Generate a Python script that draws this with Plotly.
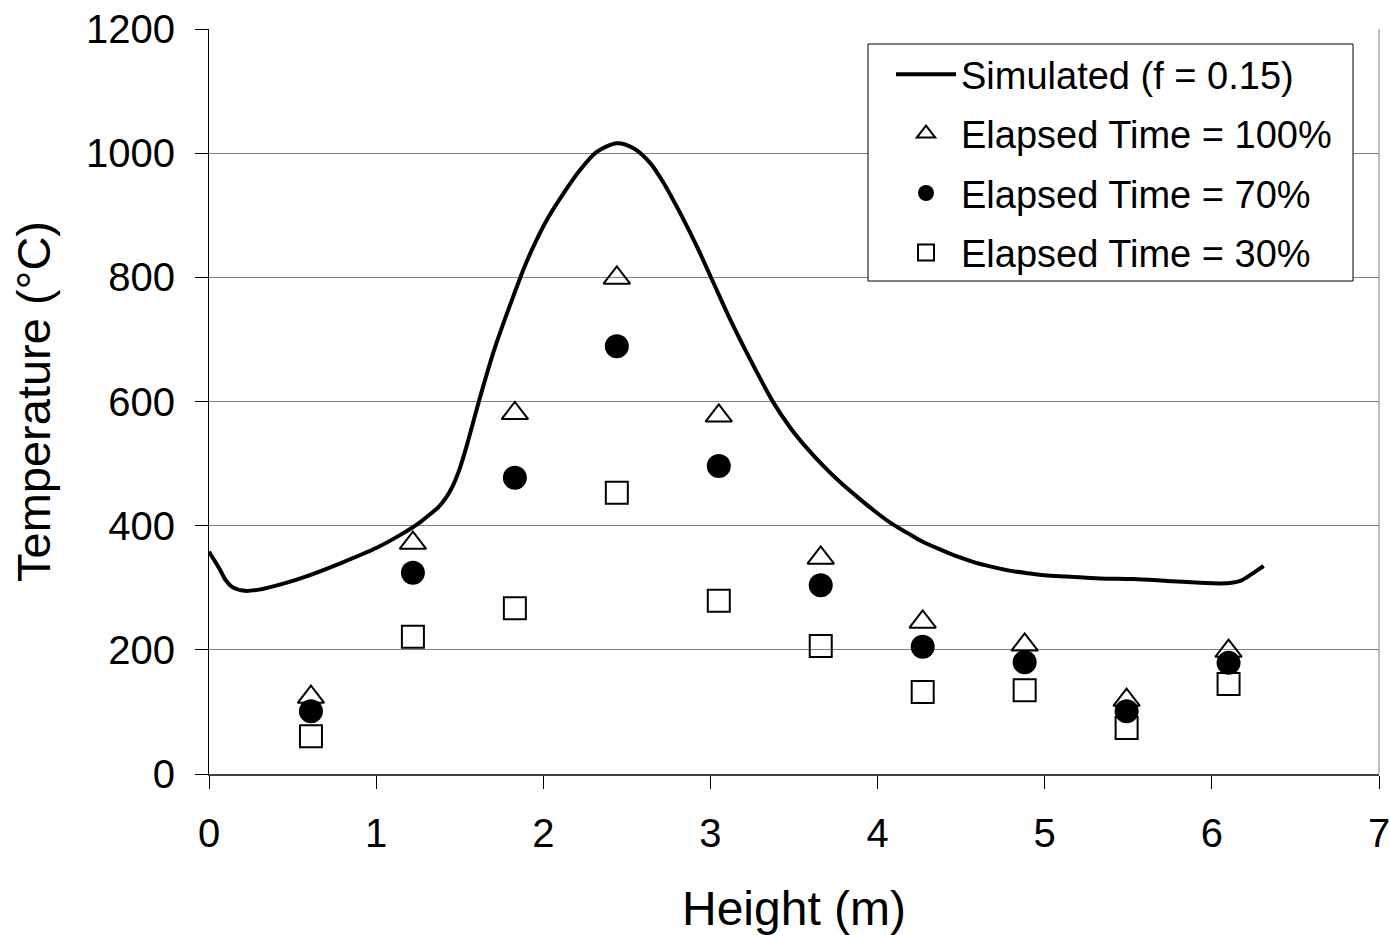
import plotly.graph_objects as go

# Measurement heights (m)
heights = [0.61, 1.22, 1.83, 2.44, 3.05, 3.66, 4.27, 4.88, 5.49, 6.10]
temp_100 = [124, 372, 581, 799, 577, 348, 245, 208, 119, 198]
temp_70 = [101, 324, 477, 689, 496, 304, 205, 180, 101, 179]
temp_30 = [61, 221, 267, 453, 279, 206, 132, 135, 74, 145]

# Simulated curve (f = 0.15)
sim_x = [0.0, 0.03, 0.066, 0.10, 0.14, 0.215, 0.30, 0.45, 0.60, 0.80, 1.00, 1.15,
         1.26, 1.32, 1.37, 1.42, 1.46, 1.50, 1.54, 1.60, 1.64, 1.70, 1.76, 1.82,
         1.88, 1.94, 2.02, 2.12, 2.22, 2.32, 2.44, 2.54, 2.64, 2.72, 2.82, 2.92,
         3.02, 3.12, 3.28, 3.38, 3.48, 3.58, 3.68, 3.78, 3.88, 3.98, 4.08, 4.18,
         4.27, 4.38, 4.48, 4.58, 4.68, 4.78, 4.88, 5.00, 5.13, 5.33, 5.53, 5.73,
         5.93, 6.05, 6.12, 6.17, 6.21, 6.26, 6.31]
sim_y = [358, 345, 329, 312, 301, 295, 297, 307, 320, 341, 364, 386,
         405, 418, 429, 446, 465, 492, 527, 586, 624, 678, 725, 769,
         812, 849, 892, 935, 973, 1002, 1016, 1008, 984, 952, 903, 849,
         790, 731, 646, 597, 557, 524, 495, 469, 446, 424, 404, 388,
         374, 361, 350, 341, 334, 328, 324, 320, 318, 315, 314, 311,
         308, 307, 308, 311, 317, 326, 335]

x_ticks = [0, 1, 2, 3, 4, 5, 6, 7]
y_ticks = [0, 200, 400, 600, 800, 1000, 1200]

FONT = "Liberation Sans, Arial, sans-serif"

fig = go.Figure()
fig.add_trace(go.Scatter(x=sim_x, y=sim_y, mode="lines", name="Simulated (f = 0.15)",
                         line=dict(color="black", width=4, shape="spline", smoothing=0.8),
                         legendgroup="a"))
fig.add_trace(go.Scatter(x=heights, y=temp_100, mode="markers", name="Elapsed Time = 100%",
                         marker=dict(symbol="triangle-up-open", size=23, color="black",
                                     line=dict(width=2, color="black")),
                         legendgroup="b"))
fig.add_trace(go.Scatter(x=heights, y=temp_70, mode="markers", name="Elapsed Time = 70%",
                         marker=dict(symbol="circle", size=24, color="black"),
                         legendgroup="c"))
fig.add_trace(go.Scatter(x=heights, y=temp_30, mode="markers", name="Elapsed Time = 30%",
                         marker=dict(symbol="square-open", size=22, color="black",
                                     line=dict(width=2, color="black")),
                         legendgroup="d"))

W = 1170.0
H = 745.0

fig.update_layout(
    width=1390, height=935,
    margin=dict(l=209, r=11, t=29, b=161, autoexpand=False),
    paper_bgcolor="white", plot_bgcolor="white",
    font=dict(family=FONT, color="black", size=40),
    showlegend=True,
    legend=dict(x=(891 - 209) / W, y=(774 - 43) / H, xanchor="left", yanchor="top",
                bgcolor="rgba(0,0,0,0)", borderwidth=0,
                font=dict(family=FONT, size=38, color="black"),
                tracegroupgap=7, itemwidth=60),
    xaxis=dict(range=[0, 7], tickvals=x_ticks, ticktext=[str(v) for v in x_ticks],
               showgrid=False, zeroline=False, showline=True, linecolor="#404040", linewidth=2,
               ticks="outside", ticklen=13, tickcolor="black", tickwidth=1,
               tickfont=dict(family=FONT, size=40), ticklabelstandoff=10,
               ticklabeloverflow="allow", automargin=False,
               title=dict(text="Height (m)", font=dict(family=FONT, size=48), standoff=42)),
    yaxis=dict(range=[0, 1200], tickvals=y_ticks, ticktext=[str(v) for v in y_ticks],
               showgrid=True, gridcolor="#808080", gridwidth=1, zeroline=False,
               showline=True, linecolor="black", linewidth=1,
               ticks="outside", ticklen=13, tickcolor="black", tickwidth=1,
               tickfont=dict(family=FONT, size=40), ticklabelstandoff=12,
               ticklabeloverflow="allow", automargin=False,
               title=dict(text="Temperature (°C)", font=dict(family=FONT, size=47), standoff=20)),
    shapes=[
        dict(type="line", xref="paper", yref="paper", x0=1, x1=1, y0=0, y1=1,
             line=dict(color="#808080", width=1)),
        dict(type="rect", xref="paper", yref="paper", layer="above",
             x0=(868 - 209) / W, x1=(1353 - 209) / W,
             y0=(774 - 281) / H, y1=(774 - 44) / H,
             fillcolor="white", line=dict(color="black", width=1)),
    ],
)

fig.write_html("out.html")
